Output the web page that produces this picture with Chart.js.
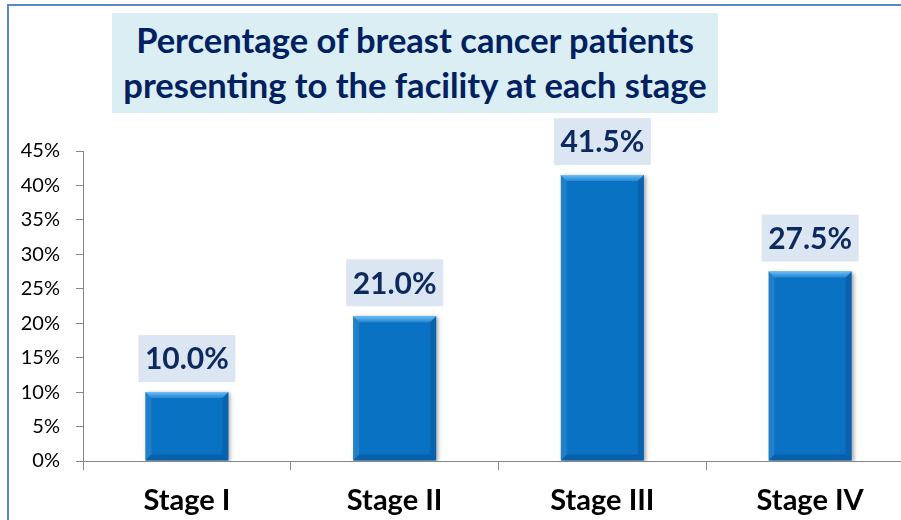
<!DOCTYPE html>
<html><head><meta charset="utf-8">
<script src="https://cdn.jsdelivr.net/npm/chart.js@4.4.1/dist/chart.umd.min.js"></script>
<style>
html,body{margin:0;padding:0;background:#fff;width:901px;height:520px;overflow:hidden;}
#wrap{position:relative;width:901px;height:520px;overflow:hidden;background:#fff;}
#c{position:absolute;left:0;top:0;}
#frame{position:absolute;left:7px;top:4px;width:920px;height:530px;border-top:2px solid #5B87C8;border-left:2px solid #5B87C8;box-sizing:border-box;pointer-events:none;}
#title{position:absolute;left:112px;top:13px;width:606px;height:100px;background:#DAEEF3;color:#002060;font-family:Lato,'Open Sans',sans-serif;font-weight:bold;font-size:34.5px;line-height:45px;text-align:center;padding-top:4px;box-sizing:border-box;white-space:nowrap;}
</style></head>
<body>
<div id="wrap">
  <canvas id="c" width="914" height="520" style="width:914px;height:520px"></canvas>
  <div id="frame"></div>
  <div id="title">Percentage of breast cancer patients<br>presenting to the facility at each stage</div>
</div>
<script>
const categories = ['Stage I', 'Stage II', 'Stage III', 'Stage IV'];
const percentages = [10.0, 21.0, 41.5, 27.5];
const yTickValues = [0, 5, 10, 15, 20, 25, 30, 35, 40, 45];

const shadowPlugin = {
  id: 'barShadow',
  beforeDatasetsDraw(chart) {
    const ctx = chart.ctx;
    ctx.save();
    ctx.shadowColor = 'rgba(0,0,0,0.35)';
    ctx.shadowBlur = 4;
    ctx.shadowOffsetX = 2;
    ctx.shadowOffsetY = 1;
  },
  afterDatasetsDraw(chart) {
    chart.ctx.restore();
  }
};

const bevelPlugin = {
  id: 'bevel',
  afterDatasetsDraw(chart) {
    const ctx = chart.ctx;
    const meta = chart.getDatasetMeta(0);
    ctx.save();
    meta.data.forEach(bar => {
      const x0 = bar.x - bar.width / 2, x1 = bar.x + bar.width / 2;
      const t = bar.y, b = bar.base, e = 6;
      const g = ctx.createLinearGradient(0, t, 0, t + e);
      g.addColorStop(0, 'rgba(130,205,255,0.85)');
      g.addColorStop(1, 'rgba(80,170,240,0.4)');
      ctx.fillStyle = g;
      ctx.beginPath(); ctx.moveTo(x0, t); ctx.lineTo(x1, t); ctx.lineTo(x1 - e, t + e); ctx.lineTo(x0 + e, t + e); ctx.closePath(); ctx.fill();
      ctx.fillStyle = 'rgba(255,255,255,0.10)';
      ctx.beginPath(); ctx.moveTo(x0, t); ctx.lineTo(x0 + e, t + e); ctx.lineTo(x0 + e, b - e); ctx.lineTo(x0, b); ctx.closePath(); ctx.fill();
      ctx.fillStyle = 'rgba(0,30,80,0.18)';
      ctx.beginPath(); ctx.moveTo(x1, t); ctx.lineTo(x1 - e, t + e); ctx.lineTo(x1 - e, b - e); ctx.lineTo(x1, b); ctx.closePath(); ctx.fill();
      ctx.fillStyle = 'rgba(0,30,80,0.22)';
      ctx.beginPath(); ctx.moveTo(x0, b); ctx.lineTo(x0 + e, b - e); ctx.lineTo(x1 - e, b - e); ctx.lineTo(x1, b); ctx.closePath(); ctx.fill();
    });
    ctx.restore();
  }
};

const labelPlugin = {
  id: 'boxLabels',
  afterDatasetsDraw(chart) {
    const ctx = chart.ctx;
    const meta = chart.getDatasetMeta(0);
    ctx.save();
    ctx.font = 'bold 30px Lato';
    ctx.textAlign = 'center';
    ctx.textBaseline = 'middle';
    meta.data.forEach((bar, i) => {
      const txt = percentages[i].toFixed(1) + '%';
      const w = 97, h = 47;
      const x = bar.x - w / 2, y = bar.y - 10 - h;
      ctx.fillStyle = '#DCE6F2';
      ctx.fillRect(x, y, w, h);
      ctx.fillStyle = '#0D2A5E';
      ctx.fillText(txt, bar.x, y + h / 2 + 1);
    });
    ctx.restore();
  }
};

new Chart(document.getElementById('c'), {
  type: 'bar',
  data: {
    labels: categories,
    datasets: [{
      data: percentages,
      backgroundColor: '#0A72C2',
      borderWidth: 0,
      barPercentage: 0.4,
      categoryPercentage: 1.0
    }]
  },
  options: {
    responsive: false,
    devicePixelRatio: 1,
    animation: false,
    layout: { padding: { top: 151, left: 0, right: 0, bottom: 0 } },
    plugins: { legend: { display: false }, tooltip: { enabled: false }, title: { display: false } },
    scales: {
      x: {
        grid: { display: true, drawOnChartArea: false, drawTicks: true, tickLength: 9, color: '#868686', offset: true },
        border: { color: '#868686', width: 1 },
        ticks: { color: '#000', font: { family: 'Lato', size: 29, weight: 'bold' }, padding: 13 },
        afterFit(s) { s.height = 59; }
      },
      y: {
        min: 0, max: 45,
        afterBuildTicks(s) { s.ticks = yTickValues.map(v => ({ value: v })); },
        ticks: { callback: v => v + '%', color: '#000', font: { family: 'Lato', size: 20 }, padding: 16 },
        grid: { drawOnChartArea: false, drawTicks: true, tickLength: 7, color: '#868686' },
        border: { color: '#868686', width: 1 },
        afterFit(s) { s.width = 83; }
      }
    }
  },
  plugins: [shadowPlugin, bevelPlugin, labelPlugin]
});
</script>
</body></html>
